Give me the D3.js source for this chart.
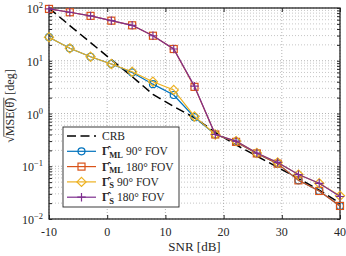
<!DOCTYPE html>
<html><head><meta charset="utf-8">
<script src="https://cdn.jsdelivr.net/npm/d3@7"></script>
<style>body{margin:0;background:#fff}svg{display:block}</style>
</head><body>
<svg id="c" width="346" height="256"></svg>
<script>
// ---- data ----
const snr = [-10, -6.43, -2.86, 0.71, 4.29, 7.86, 11.43, 15, 18.57, 22.14, 25.71, 29.29, 32.86, 36.43, 40];
const crb   = [100, 46.4, 22.1, 10.5, 5.0, 2.31, 1.36, 0.83, 0.44, 0.254, 0.156, 0.0955, 0.0586, 0.0353, 0.0199];
const ml90  = [28, 17.2, 11.9, 8.7, 6.0, 3.6, 2.24, 0.85, 0.40, 0.29, 0.175, 0.112, 0.054, 0.034, 0.0177];
const ml180 = [96, 83, 71, 57.5, 47, 29.8, 16.7, 3.2, 0.40, 0.29, 0.175, 0.112, 0.054, 0.034, 0.0177];
const s90   = [28, 17.2, 11.9, 8.7, 6.2, 4.0, 2.8, 0.88, 0.40, 0.30, 0.178, 0.118, 0.0695, 0.0475, 0.0275];
const s180  = [96, 83, 71, 57.5, 47, 29.8, 16.7, 3.3, 0.40, 0.30, 0.178, 0.118, 0.0695, 0.0475, 0.0267];
const xTicks = [-10, 0, 10, 20, 30, 40];
const yExps = [-2, -1, 0, 1, 2];
const seriesNames = ["CRB", "ML 90", "ML 180", "S 90", "S 180"];

const FONT = "'Liberation Serif', 'DejaVu Serif', serif";
const svg = d3.select("#c");
const L = 49, R = 340, T = 8, B = 219;
const x = d3.scaleLinear().domain([-10, 40]).range([L, R]);
const y = d3.scaleLog().domain([0.01, 100]).range([B, T]);

// grid
const g = svg.append("g");
const minor = [];
for (let e = -2; e < 2; e++) for (let k = 2; k <= 9; k++) minor.push(k * Math.pow(10, e));
g.selectAll(".mn").data(minor).join("line")
  .attr("x1", L).attr("x2", R).attr("y1", d => y(d)).attr("y2", d => y(d))
  .attr("stroke", "#b8b8b8").attr("stroke-width", 0.8).attr("stroke-dasharray", "1,2");
g.selectAll(".mjy").data(yExps.map(e => Math.pow(10, e))).join("line")
  .attr("x1", L).attr("x2", R).attr("y1", d => y(d)).attr("y2", d => y(d))
  .attr("stroke", "#a0a0a0").attr("stroke-width", 0.8).attr("stroke-dasharray", "1,2");
g.selectAll(".mjx").data(xTicks).join("line")
  .attr("x1", d => x(d)).attr("x2", d => x(d)).attr("y1", T).attr("y2", B)
  .attr("stroke", "#a0a0a0").attr("stroke-width", 0.8).attr("stroke-dasharray", "1,2");

// axes via d3 axis (ticks inward)
const ax = svg.append("g");
const xb = d3.axisBottom(x).tickValues(xTicks).tickSize(-4).tickFormat("");
const xt = d3.axisTop(x).tickValues(xTicks).tickSize(-4).tickFormat("");
ax.append("g").attr("transform", `translate(0,${B})`).call(xb);
ax.append("g").attr("transform", `translate(0,${T})`).call(xt);
const yTickVals = yExps.map(e => Math.pow(10, e)).concat(minor);
const yl = d3.axisLeft(y).tickValues(yTickVals).tickSize(-3).tickFormat("");
const yr = d3.axisRight(y).tickValues(yTickVals).tickSize(-3).tickFormat("");
ax.append("g").attr("transform", `translate(${L},0)`).call(yl);
ax.append("g").attr("transform", `translate(${R},0)`).call(yr);
ax.selectAll(".domain").remove();
ax.selectAll("line").attr("stroke", "#262626").attr("stroke-width", 1);
svg.append("rect").attr("x", L).attr("y", T).attr("width", R - L).attr("height", B - T)
  .attr("fill", "none").attr("stroke", "#262626").attr("stroke-width", 1.3);

// tick labels
svg.selectAll(".xl").data(xTicks).join("text")
  .attr("x", d => x(d)).attr("y", 236).attr("text-anchor", "middle")
  .attr("font-family", FONT).attr("font-size", 12).attr("fill", "#262626")
  .text(d => d < 0 ? "-" + Math.abs(d) : d);
yExps.forEach(e => {
  const t = svg.append("text").attr("x", 43).attr("y", y(Math.pow(10, e)) + 5)
    .attr("text-anchor", "end").attr("font-family", FONT).attr("font-size", 12).attr("fill", "#262626");
  t.append("tspan").text("10");
  t.append("tspan").attr("dy", -5).attr("font-size", 8.5).text(e < 0 ? "\u2212" + Math.abs(e) : e);
});

// axis labels
svg.append("text").attr("x", (L + R) / 2).attr("y", 251).attr("text-anchor", "middle")
  .attr("font-family", FONT).attr("font-size", 13).attr("fill", "#262626").text("SNR [dB]");
const yg = svg.append("g").attr("transform", "translate(14,106) rotate(-90)");
const ylab = yg.append("text").attr("x", 0).attr("y", 0).attr("text-anchor", "middle")
  .attr("font-family", FONT).attr("font-size", 12).attr("fill", "#262626")
  .text("\u221AMSE(\u03B8\u0302) [deg]");
{
  const n = ylab.node();
  const s = n.getStartPositionOfChar(1).x;
  const e = n.getEndPositionOfChar(7).x;
  const bb = n.getBBox();
  yg.append("line").attr("x1", s - 0.5).attr("x2", e).attr("y1", bb.y + 0.8).attr("y2", bb.y + 0.8)
    .attr("stroke", "#262626").attr("stroke-width", 0.8);
}

// series
const colors = ["#000000", "#0072BD", "#D95319", "#EDB120", "#7E2F8E"];
const data = [crb, ml90, ml180, s90, s180];
const markers = ["none", "circle", "square", "diamond", "plus"];
const line = d3.line().x((d, i) => x(snr[i])).y(d => y(d));
function marker(sel, type, col) {
  if (type === "circle") sel.append("circle").attr("r", 3.5);
  else if (type === "square") sel.append("rect").attr("x", -3.5).attr("y", -3.5).attr("width", 7).attr("height", 7);
  else if (type === "diamond") sel.append("path").attr("d", "M0,-4.6L4.6,0L0,4.6L-4.6,0Z");
  else if (type === "plus") sel.append("path").attr("d", "M-4.2,0H4.2M0,-4.2V4.2");
  sel.selectAll("*").attr("fill", "none").attr("stroke", col).attr("stroke-width", 1.2);
}
data.forEach((arr, k) => {
  const p = svg.append("path").datum(arr).attr("d", line).attr("fill", "none")
    .attr("stroke", colors[k]).attr("stroke-width", k === 0 ? 1.5 : 1.2);
  if (k === 0) p.attr("stroke-dasharray", "9,4.5");
  if (k > 0) {
    arr.forEach((v, i) => {
      const m = svg.append("g").attr("transform", `translate(${x(snr[i])},${y(v)})`);
      marker(m, markers[k], colors[k]);
    });
  }
});

// legend
const lg = svg.append("g");
lg.append("rect").attr("x", 63).attr("y", 127).attr("width", 116).attr("height", 80)
  .attr("fill", "#fff").attr("stroke", "#262626").attr("stroke-width", 0.9);
const rowY = i => 136 + i * 15.3;
seriesNames.forEach((nm, i) => {
  const yy = rowY(i);
  const ln = lg.append("line").attr("x1", 67).attr("x2", 96).attr("y1", yy).attr("y2", yy)
    .attr("stroke", colors[i]).attr("stroke-width", i === 0 ? 1.5 : 1.2);
  if (i === 0) ln.attr("stroke-dasharray", "9,4.5");
  else marker(lg.append("g").attr("transform", `translate(81.5,${yy})`), markers[i], colors[i]);
  const t = lg.append("text").attr("x", 102).attr("y", yy + 4)
    .attr("font-family", FONT).attr("font-size", 11.5).attr("fill", "#262626");
  if (i === 0) { t.text(nm); return; }
  const [sub, fov] = nm.split(" ");
  t.append("tspan").attr("font-weight", "bold").text("\u0393\u0302");
  t.append("tspan").attr("font-weight", "bold").attr("font-size", 8.5).attr("dy", 2.5).text(sub);
  t.append("tspan").attr("dy", -2.5).text(" " + fov + "\u00B0 FOV");
});
</script>
</body></html>
